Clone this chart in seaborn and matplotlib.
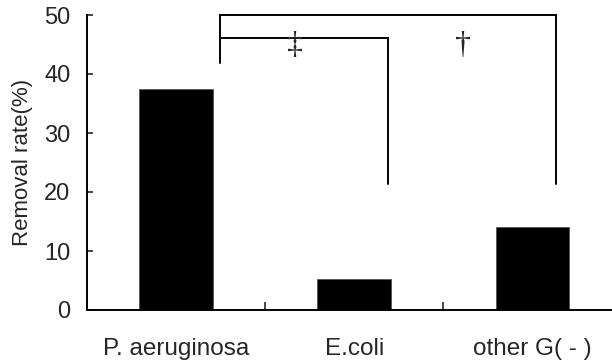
import matplotlib
matplotlib.use("Agg")
import pandas as pd
import matplotlib.pyplot as plt
import seaborn as sns

categories = ["P. aeruginosa", "E.coli", "other G( - )"]
removal_rate = [37.4, 5.25, 14.1]
y_ticks = [0, 10, 20, 30, 40, 50]

# significance brackets: (left x, right x, top y, left foot y, right foot y, mark, mark x)
brackets = [
    (0.247, 2.13, 50.0, 41.9, 21.4, "\u2020", 1.61),
    (0.247, 1.19, 46.1, 46.1, 21.4, "\u2021", 0.67),
]

df = pd.DataFrame({"group": categories, "rate": removal_rate})

sns.set_style("ticks")
plt.rcParams["font.family"] = ["Liberation Sans", "DejaVu Sans"]

fig = plt.figure(figsize=(6.12, 3.63), dpi=100)
ax = fig.add_axes([87 / 612, 53 / 363, 534.6 / 612, 295 / 363])

sns.barplot(data=df, x="group", y="rate", color="black", width=0.415,
            saturation=1, edgecolor="#555555", linewidth=0.6, ax=ax)

ax.set_xlim(-0.5, 2.5)
ax.set_ylim(0, 50)
ax.set_yticks(y_ticks)
ax.set_xlabel("")
ax.set_ylabel("Removal rate(%)", fontsize=16, labelpad=8)

ax.tick_params(axis="y", direction="in", length=4, width=1.2, labelsize=17, pad=12)
ax.tick_params(axis="x", which="major", length=0, labelsize=17.5, pad=20)
ax.set_xticks([0.5, 1.5], minor=True)
ax.tick_params(axis="x", which="minor", direction="in", length=6, width=1.2)

sns.despine(ax=ax)
for side in ["left", "bottom"]:
    ax.spines[side].set_linewidth(1.4)
    ax.spines[side].set_color("black")

for x0, x1, top, foot0, foot1, mark, mx in brackets:
    ax.plot([x0, x0, x1, x1], [foot0, top, top, foot1], color="black",
            lw=1.4, clip_on=False, solid_joinstyle="miter")
    ax.text(mx, 44.9, mark, ha="center", va="center", fontsize=23,
            family=["Liberation Serif", "DejaVu Serif"])

fig.savefig("out.png", dpi=100)
